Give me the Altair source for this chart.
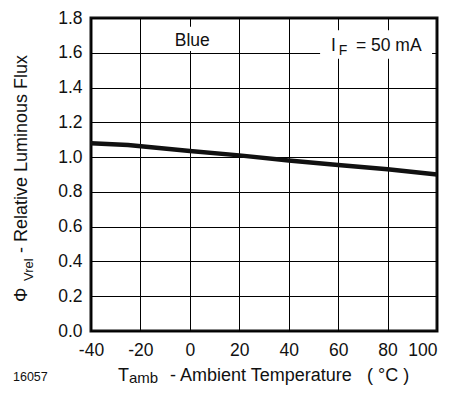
import altair as alt
import pandas as pd

# Data
temps = [-40, -25, 0, 20, 40, 60, 80, 100]
flux = [1.08, 1.07, 1.035, 1.01, 0.98, 0.955, 0.93, 0.90]
x_ticks = [-40, -20, 0, 20, 40, 60, 80, 100]
y_ticks = [0.0, 0.2, 0.4, 0.6, 0.8, 1.0, 1.2, 1.4, 1.6, 1.8]

FONT = "Liberation Sans"
W, H = 346, 313

df = pd.DataFrame({"t": temps, "f": flux})

xs = alt.Scale(domain=[-40, 100], nice=False, zero=False)
ys = alt.Scale(domain=[0, 1.8], nice=False, zero=False)

x_axis = alt.Axis(
    values=x_ticks, title=None, grid=True, gridColor="#000", gridWidth=1, gridOpacity=1,
    domain=False, ticks=False, labelFont=FONT, labelFontSize=17.5, labelColor="#111",
    labelPadding=10, labelExpr="toString(datum.value)", labelFlush=False,
    labelOverlap=False,
    labelAlign={"expr": "datum.value == 100 ? 'right' : 'center'"})
y_axis = alt.Axis(
    values=y_ticks, title=None, grid=True, gridColor="#000", gridWidth=1, gridOpacity=1,
    domain=False, ticks=False, labelFont=FONT, labelFontSize=17.5, labelColor="#111",
    labelPadding=9, format=".1f", labelFlush=False, labelOverlap=False)

line = alt.Chart(df).mark_line(color="#111", strokeWidth=4.5).encode(
    x=alt.X("t:Q", scale=xs, axis=x_axis),
    y=alt.Y("f:Q", scale=ys, axis=y_axis),
)

# white label boxes
boxes = pd.DataFrame({
    "x1": [-11, 52.7], "x2": [13, 98],
    "y1": [1.61, 1.565], "y2": [1.75, 1.73],
})
box = alt.Chart(boxes).mark_rect(color="white").encode(
    x=alt.X("x1:Q", scale=xs, axis=x_axis), x2="x2:Q",
    y=alt.Y("y1:Q", scale=ys, axis=y_axis), y2="y2:Q"
)

ann = pd.DataFrame({
    "x": [1, 57.1, 60.2, 67.2],
    "y": [1.67, 1.64, 1.613, 1.64],
    "s": ["Blue", "I", "F", "= 50 mA"],
    "size": [17.5, 17.5, 14, 17.5],
    "align": ["center", "left", "left", "left"],
})
ann_layers = []
for _, r in ann.iterrows():
    ann_layers.append(
        alt.Chart(pd.DataFrame([r])).mark_text(
            font=FONT, fontSize=float(r["size"]), align=r["align"], baseline="middle", color="#111"
        ).encode(x=alt.X("x:Q", scale=xs, axis=x_axis),
                 y=alt.Y("y:Q", scale=ys, axis=y_axis), text="s:N")
    )

def ptext(txt, x, y, size=18, angle=0, align="left", baseline="middle"):
    kw = dict(font=FONT, fontSize=size, align=align, baseline=baseline, color="#111")
    if angle:
        kw["angle"] = angle
    return alt.Chart(pd.DataFrame({"s": [txt]})).mark_text(**kw).encode(
        x=alt.value(x), y=alt.value(y), text="s:N"
    )

titles = [
    ptext("Φ", -69, 284, 18, 270),
    ptext("Vrel", -62, 263, 13, 270),
    ptext("- Relative Luminous Flux", -69, 235, 18, 270),
    ptext("T", 27, 363, 18, baseline="alphabetic"),
    ptext("amb", 38, 365, 15, baseline="alphabetic"),
    ptext("- Ambient Temperature", 79, 363, 18, baseline="alphabetic"),
    ptext("( °C )", 276, 363, 18, baseline="alphabetic"),
    ptext("16057", -78, 363, 12.5, baseline="alphabetic"),
]

chart = alt.layer(box, line, *ann_layers, *titles).properties(
    width=W, height=H,
    autosize=alt.AutoSizeParams(type="none"),
    padding={"left": 83, "top": 10, "right": 4, "bottom": 55},
    background="white",
).configure_view(stroke="#111", strokeWidth=3)

chart.save("out.html", embed_options={"renderer": "svg", "actions": False})
